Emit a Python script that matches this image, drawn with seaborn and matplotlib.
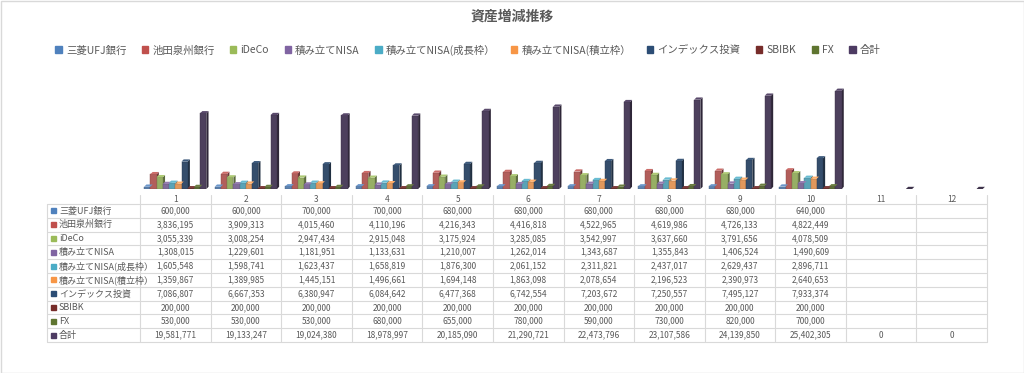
import numpy as np
import pandas as pd
import seaborn as sns
import matplotlib.pyplot as plt
from matplotlib.patches import Patch, Rectangle

# data
months = [str(i) for i in range(1, 13)]
mufg = [600000, 600000, 700000, 700000, 680000, 680000, 680000, 680000, 680000, 640000, None, None]
ikeda = [3836195, 3909313, 4015460, 4110196, 4216343, 4416818, 4522965, 4619986, 4726133, 4822449, None, None]
ideco = [3055339, 3008254, 2947434, 2915048, 3175924, 3285085, 3542997, 3637660, 3791656, 4078509, None, None]
nisa = [1308015, 1229601, 1181951, 1133631, 1210007, 1262014, 1343687, 1355843, 1406524, 1490609, None, None]
nisa_growth = [1605548, 1598741, 1623437, 1658819, 1876300, 2061152, 2311821, 2437017, 2629437, 2896711, None, None]
nisa_tsumitate = [1359867, 1389985, 1445151, 1496661, 1694148, 1863098, 2078654, 2196523, 2390973, 2640653, None, None]
index_fund = [7086807, 6667353, 6380947, 6084642, 6477368, 6742554, 7203672, 7250557, 7495127, 7933374, None, None]
sbibk = [200000, 200000, 200000, 200000, 200000, 200000, 200000, 200000, 200000, 200000, None, None]
fx = [530000, 530000, 530000, 680000, 655000, 780000, 590000, 730000, 820000, 700000, None, None]
total = [19581771, 19133247, 19024380, 18978997, 20185090, 21290721, 22473796, 23107586, 24139850, 25402305, 0, 0]

names = ["三菱UFJ銀行", "池田泉州銀行", "iDeCo", "積み立てNISA", "積み立てNISA(成長枠）",
         "積み立てNISA(積立枠）", "インデックス投資", "SBIBK", "FX", "合計"]
series = [mufg, ikeda, ideco, nisa, nisa_growth, nisa_tsumitate, index_fund, sbibk, fx, total]
colors = ["#4F81BD", "#C0504D", "#9BBB59", "#8064A2", "#4BACC6",
          "#F79646", "#2C4D75", "#772C2A", "#5F7530", "#4D3B62"]

rows = []
for name, vals in zip(names, series):
    for m, v in zip(months, vals):
        rows.append({"month": m, "item": name, "value": np.nan if v is None else v})
df = pd.DataFrame(rows)

sns.set_theme(style="white")
plt.rcParams['font.family'] = ['Noto Sans CJK JP', 'DejaVu Sans']
text_color = "#595959"
grid_color = "#d9d9d9"

W, H = 1024, 373
fig = plt.figure(figsize=(W / 100, H / 100), dpi=100)

# bar area (pixel layout)
left, right, top, bottom = 140, 987, 73, 189
ax = fig.add_axes([left / W, 1 - bottom / H, (right - left) / W, (bottom - top) / H])
ymax = 30000000
sns.barplot(data=df, x="month", y="value", hue="item", order=months, hue_order=names,
            palette=dict(zip(names, colors)), width=0.88, errorbar=None, ax=ax, legend=False)
ax.set_ylim(0, ymax)
ax.set_xlim(-0.5, len(months) - 0.5)
ax.axis("off")

# fake 3D look: darker side face and lighter top face on every bar
px_y = ymax / (bottom - top)
dy = 2.2 * px_y
for p in list(ax.patches):
    h = p.get_height()
    if np.isnan(h):
        continue
    x0, w = p.get_x(), p.get_width()
    dx = w * 0.35
    fc = np.array(p.get_facecolor()[:3])
    p.set_edgecolor(tuple(fc * 0.75))
    p.set_linewidth(0.3)
    ax.fill([x0 + w, x0 + w + dx, x0 + w + dx, x0 + w], [0, dy, h + dy, h],
            color=tuple(fc * 0.6), lw=0, clip_on=False, zorder=p.get_zorder() - 0.1)
    ax.fill([x0, x0 + dx, x0 + w + dx, x0 + w], [h, h + dy, h + dy, h],
            color=tuple(fc * 0.8 if h == 0 else np.minimum(fc * 1.15, 1)), lw=0,
            clip_on=False, zorder=p.get_zorder() + 0.1)

fig.text(0.5, 1 - 17 / H, "資産増減推移", ha="center", va="center",
         fontsize=10, fontweight="bold", color=text_color)

handles = [Patch(facecolor=c, edgecolor=c) for c in colors]
fig.legend(handles, names, loc="center", bbox_to_anchor=(0.457, 1 - 50 / H), ncol=10,
           frameon=False, fontsize=7.5, handlelength=0.6, handleheight=0.6,
           handletextpad=0.4, columnspacing=1.5, labelcolor=text_color)

# data table drawn in pixel coordinates
tab = fig.add_axes([0, 0, 1, 1])
tab.set_xlim(0, W)
tab.set_ylim(H, 0)
tab.axis("off")

label_left = 47
col_w = (right - left) / len(months)
header_top, header_bot = 195, 204
row_h = 13.8
n_rows = len(names)
table_bot = header_bot + n_rows * row_h

# vertical lines
for i in range(len(months) + 1):
    x = left + i * col_w
    tab.plot([x, x], [header_top, table_bot], color=grid_color, lw=0.8)
tab.plot([label_left, label_left], [header_bot, table_bot], color=grid_color, lw=0.8)
# horizontal lines
for r in range(n_rows + 1):
    y = header_bot + r * row_h
    tab.plot([label_left, right], [y, y], color=grid_color, lw=0.8)

for i, m in enumerate(months):
    tab.text(left + (i + 0.5) * col_w, (header_top + header_bot) / 2 + 0.5, m,
             ha="center", va="center", fontsize=6, color=text_color)

for r, (name, vals, c) in enumerate(zip(names, series, colors)):
    yc = header_bot + (r + 0.5) * row_h
    tab.add_patch(Rectangle((label_left + 4, yc - 2.5), 5, 5, color=c))
    tab.text(label_left + 12, yc, name, ha="left", va="center", fontsize=6.5, color=text_color)
    for i, v in enumerate(vals):
        if v is None:
            continue
        tab.text(left + (i + 0.5) * col_w, yc, f"{v:,}", ha="center", va="center",
                 fontsize=6, color=text_color)

# outer frame
tab.add_patch(Rectangle((0.5, 0.5), W - 1, H - 1, fill=False, edgecolor=grid_color, lw=1))

fig.savefig("out.png", dpi=100)
